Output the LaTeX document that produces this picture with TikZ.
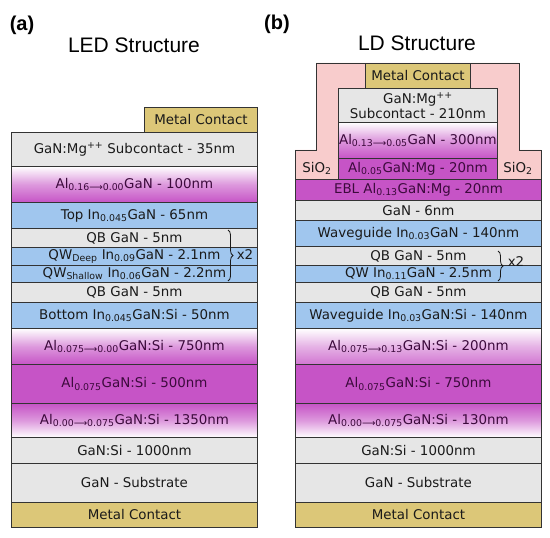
\documentclass[tikz,border=0pt]{standalone}
\usepackage{fontspec}
\setmainfont{DejaVu Sans}
\newfontfamily\arialf{Liberation Sans}
\usetikzlibrary{decorations.pathreplacing}
\definecolor{grayL}{HTML}{E6E6E6}
\definecolor{blueL}{HTML}{A0C6EE}
\definecolor{magL}{HTML}{C654C6}
\definecolor{goldL}{HTML}{DCC778}
\definecolor{pinkL}{HTML}{F8CCCC}
\definecolor{edgeC}{HTML}{333333}
\definecolor{txtC}{HTML}{1A1A1A}
\definecolor{purpC}{HTML}{3C0A3C}
\newcommand\lab{\fontsize{13.4bp}{15bp}\selectfont}
\newcommand\sub[1]{\textsubscript{#1}}
\tikzset{
  lay/.style={draw=edgeC, line width=0.9bp, inner sep=0pt, anchor=north west, text=txtC, font=\lab, align=center},
  gr/.style={fill=grayL},
  bl/.style={fill=blueL},
  mg/.style={fill=magL, text=purpC},
  gd/.style={fill=goldL},
  gdown/.style={top color=white, bottom color=magL, middle color=magL!60, text=purpC},
  gup/.style={top color=magL, bottom color=white, middle color=magL!60, text=purpC},
  gdownl/.style={top color=white, bottom color=magL!80, middle color=magL!45, text=purpC},
  bracest/.style={draw=txtC, line width=0.8bp, decorate, decoration={brace, amplitude=5bp}},
  ttl/.style={font=\arialf\fontsize{21bp}{24bp}\selectfont, text=black},
  pan/.style={font=\arialf\bfseries\fontsize{20bp}{24bp}\selectfont, text=black}
}
\newcommand\layer[7]{\node[lay,#6,minimum width={(#4-#2)*1bp},minimum height={(#5-#3)*1bp}] (#1) at (#2,#3) {#7};}
\begin{document}
\begin{tikzpicture}[x=1bp,y=-1bp]
\useasboundingbox (0,0) rectangle (550,538);
% titles
\node[pan] (pa) at (22,25) {(a)};
\node[pan] (pb) at (277,24) {(b)};
\node[ttl] (ta) at (134,45) {LED Structure};
\node[ttl] (tb) at (417,43) {LD Structure};
% ---------- LED ----------
\layer{lmc}{144}{107}{257}{132}{gd}{Metal Contact}
\layer{l1}{11}{132}{257}{166}{gr}{GaN:Mg\textsuperscript{++} Subcontact - 35nm}
\layer{l2}{11}{166}{257}{202}{gdown}{Al\sub{0.16⟶0.00}GaN - 100nm}
\layer{l3}{11}{202}{257}{228}{bl}{Top In\sub{0.045}GaN - 65nm}
\layer{l4}{11}{228}{257}{247}{gr}{QB GaN - 5nm}
\layer{l5}{11}{247}{257}{265}{bl}{QW\sub{Deep} In\sub{0.09}GaN - 2.1nm}
\layer{l6}{11}{265}{257}{282}{bl}{QW\sub{Shallow} In\sub{0.06}GaN - 2.2nm}
\layer{l7}{11}{282}{257}{302}{gr}{QB GaN - 5nm}
\layer{l8}{11}{302}{257}{328}{bl}{Bottom In\sub{0.045}GaN:Si - 50nm}
\layer{l9}{11}{328}{257}{364}{gdown}{Al\sub{0.075⟶0.00}GaN:Si - 750nm}
\layer{l10}{11}{364}{257}{403}{mg}{Al\sub{0.075}GaN:Si - 500nm}
\layer{l11}{11}{403}{257}{437}{gup}{Al\sub{0.00⟶0.075}GaN:Si - 1350nm}
\layer{l12}{11}{437}{257}{463}{gr}{GaN:Si - 1000nm}
\layer{l13}{11}{463}{257}{502}{gr}{GaN - Substrate}
\layer{l14}{11}{502}{257}{527}{gd}{Metal Contact}
\coordinate (lbt) at (228,230);
\coordinate (lbb) at (228,281);
\draw[bracest] (lbt) -- (lbb);
\node[font=\lab, text=txtC, inner sep=0pt] (lx2) at (245,255) {x2};
% ---------- LD ----------
\path[fill=pinkL, draw=edgeC, line width=0.9bp] (316,63) -- (519,63) -- (519,150) -- (541,150) -- (541,179) -- (295,179) -- (295,150) -- (316,150) -- cycle;
\node[font=\lab, text=txtC, inner sep=0pt] (so1) at (317,168) {SiO\sub{2}};
\node[font=\lab, text=txtC, inner sep=0pt] (so2) at (518,168) {SiO\sub{2}};
\layer{rmc}{365}{63}{470}{88}{gd}{Metal Contact}
\layer{r1}{338}{88}{497}{122}{gr}{GaN:Mg\textsuperscript{++}\\Subcontact - 210nm}
\layer{r2}{338}{122}{497}{158}{gdown}{Al\sub{0.13⟶0.05}GaN - 300nm}
\layer{r3}{338}{158}{497}{179}{mg}{Al\sub{0.05}GaN:Mg - 20nm}
\layer{r4}{295}{179}{541}{200}{mg}{EBL Al\sub{0.13}GaN:Mg - 20nm}
\layer{r5}{295}{200}{541}{220}{gr}{GaN - 6nm}
\layer{r6}{295}{220}{541}{246}{bl}{Waveguide In\sub{0.03}GaN - 140nm}
\layer{r7}{295}{246}{541}{265}{gr}{QB GaN - 5nm}
\layer{r8}{295}{265}{541}{282}{bl}{QW In\sub{0.11}GaN - 2.5nm}
\layer{r9}{295}{282}{541}{302}{gr}{QB GaN - 5nm}
\layer{r10}{295}{302}{541}{328}{bl}{Waveguide In\sub{0.03}GaN:Si - 140nm}
\layer{r11}{295}{328}{541}{364}{gdownl}{Al\sub{0.075⟶0.13}GaN:Si - 200nm}
\layer{r12}{295}{364}{541}{403}{mg}{Al\sub{0.075}GaN:Si - 750nm}
\layer{r13}{295}{403}{541}{437}{gup}{Al\sub{0.00⟶0.075}GaN:Si - 130nm}
\layer{r14}{295}{437}{541}{463}{gr}{GaN:Si - 1000nm}
\layer{r15}{295}{463}{541}{502}{gr}{GaN - Substrate}
\layer{r16}{295}{502}{541}{527}{gd}{Metal Contact}
\coordinate (rbt) at (498,251);
\coordinate (rbb) at (498,281);
\draw[bracest] (rbt) -- (rbb);
\node[font=\lab, text=txtC, inner sep=0pt] (rx2) at (516,262) {x2};
\end{tikzpicture}
\end{document}
